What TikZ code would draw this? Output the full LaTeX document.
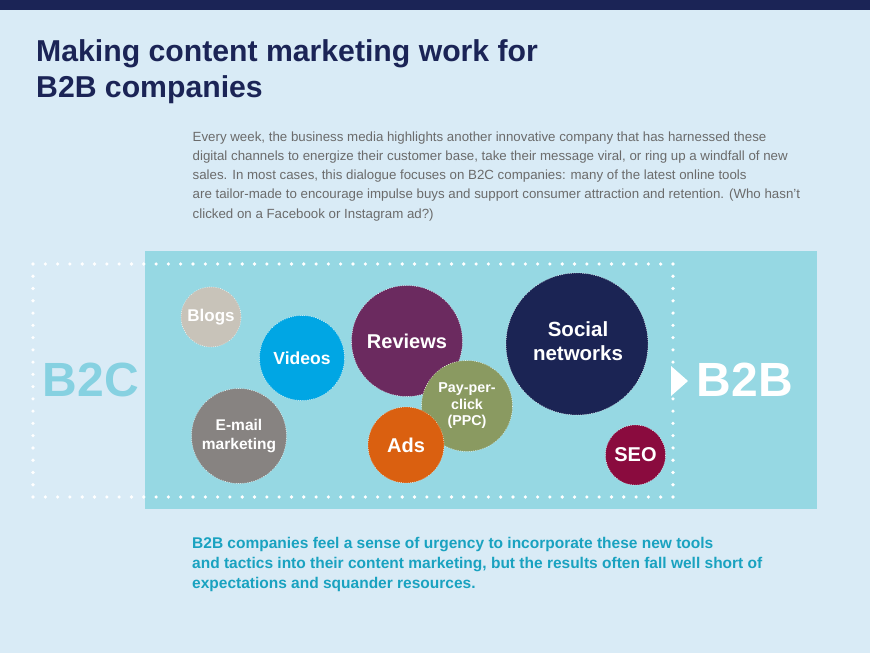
\documentclass[tikz,border=0pt]{standalone}
\usepackage{fontspec}
\setmainfont{Liberation Sans}
\definecolor{bgc}{HTML}{D9EBF6}
\definecolor{navy}{HTML}{1B2456}
\definecolor{paragray}{HTML}{6B6B6B}
\definecolor{band}{HTML}{96D8E3}
\definecolor{btoc}{HTML}{86D1E1}
\definecolor{teal}{HTML}{19A2C0}
\definecolor{cblogs}{HTML}{C8C3B9}
\definecolor{cvideos}{HTML}{00A6E4}
\definecolor{creviews}{HTML}{6B2A5F}
\definecolor{cemail}{HTML}{878381}
\definecolor{cads}{HTML}{DA6010}
\definecolor{cppc}{HTML}{8A9A61}
\definecolor{csocial}{HTML}{1B2454}
\definecolor{cseo}{HTML}{8A0B3E}
\tikzset{
  bubble/.style={circle, inner sep=0pt, draw=white, line width=0.8pt,
    dash pattern=on 0.01pt off 2.2pt, line cap=round, text=white,
    font=\bfseries, align=center},
  paraline/.style={anchor=base west, inner sep=0pt, text=paragray,
    font=\fontsize{13.3}{15}\selectfont},
  footline/.style={anchor=base west, inner sep=0pt, text=teal,
    font=\bfseries\fontsize{15.5}{17}\selectfont},
  titleline/.style={anchor=base west, inner sep=0pt, text=navy,
    font=\bfseries\fontsize{30.2}{34}\selectfont},
  bigword/.style={inner sep=0pt, font=\bfseries\fontsize{48}{50}\selectfont}
}
\begin{document}
\begin{tikzpicture}[x=1pt,y=-1pt]
\useasboundingbox (0,0) rectangle (870,653);
\fill[bgc] (0,0) rectangle (870,653);
\fill[navy] (0,0) rectangle (870,10);
% title
\node[titleline] (t1) at (36,61) {Making content marketing work for};
\node[titleline] (t2) at (36,97) {B2B companies};
% paragraph
\node[paraline] (p1) at (192.5,141) {Every week, the business media highlights another innovative company that has harnessed these};
\node[paraline] (p2) at (192.5,160.3) {digital channels to energize their customer base, take their message viral, or ring up a windfall of new};
\node[paraline] (p3) at (192.5,179.6) {sales. In most cases, this dialogue focuses on B2C companies: many of the latest online tools};
\node[paraline] (p4) at (192.5,198.9) {are tailor-made to encourage impulse buys and support consumer attraction and retention. (Who hasn't};
\node[paraline] (p5) at (192.5,218.2) {clicked on a Facebook or Instagram ad?)};
% band
\fill[band] (145,251) rectangle (817,509);
% dotted frame
\foreach \i in {0,...,52} {
  \fill[white] (33+\i*12.3077,264) circle (1.8);
  \fill[white] (33+\i*12.3077,497) circle (1.8);
}
\foreach \i in {1,...,18} {
  \fill[white] (33,264+\i*12.263) circle (1.8);
  \fill[white] (673,264+\i*12.263) circle (1.8);
}
% arrow
\fill[white] (671,366) -- (688,381) -- (671,396) -- cycle;
\node[bigword, text=btoc] (b2c) at (91,380) {B2C};
\node[bigword, text=white] (b2b) at (745,380) {B2B};
% bubbles
\node[bubble, fill=cblogs, minimum size=60pt, font=\bfseries\fontsize{17}{19}\selectfont] (blogs) at (211,317) {Blogs};
\node[bubble, fill=cvideos, minimum size=85pt, font=\bfseries\fontsize{17.5}{19}\selectfont] (videos) at (302,358) {Videos};
\node[bubble, fill=creviews, minimum size=111pt, font=\bfseries\fontsize{20}{22}\selectfont] (reviews) at (407,341) {Reviews};
\node[bubble, fill=cemail, minimum size=95pt, font=\bfseries\fontsize{15.5}{18.5}\selectfont] (email) at (239,436) {E-mail\\marketing};
\node[bubble, fill=cppc, minimum size=91pt, font=\bfseries\fontsize{14.3}{16.5}\selectfont] (ppc) at (467,406) {Pay-per-\\click\\(PPC)};
\node[bubble, fill=cads, minimum size=76pt, font=\bfseries\fontsize{20}{22}\selectfont] (ads) at (406,445) {Ads};
\node[bubble, fill=csocial, minimum size=142pt, font=\bfseries\fontsize{20.5}{23.5}\selectfont] (social) at (577,344) {};
\node[text=white, font=\bfseries\fontsize{20.5}{23.5}\selectfont, align=center, inner sep=0pt] (sociallbl) at (578,341) {Social\\networks};
\node[bubble, fill=cseo, minimum size=60pt, font=\bfseries\fontsize{20}{22}\selectfont] (seo) at (635.5,455) {SEO};
% footer
\node[footline] (f1) at (192,548) {B2B companies feel a sense of urgency to incorporate these new tools};
\node[footline] (f2) at (192,568) {and tactics into their content marketing, but the results often fall well short of};
\node[footline] (f3) at (192,588) {expectations and squander resources.};
\end{tikzpicture}
\end{document}
